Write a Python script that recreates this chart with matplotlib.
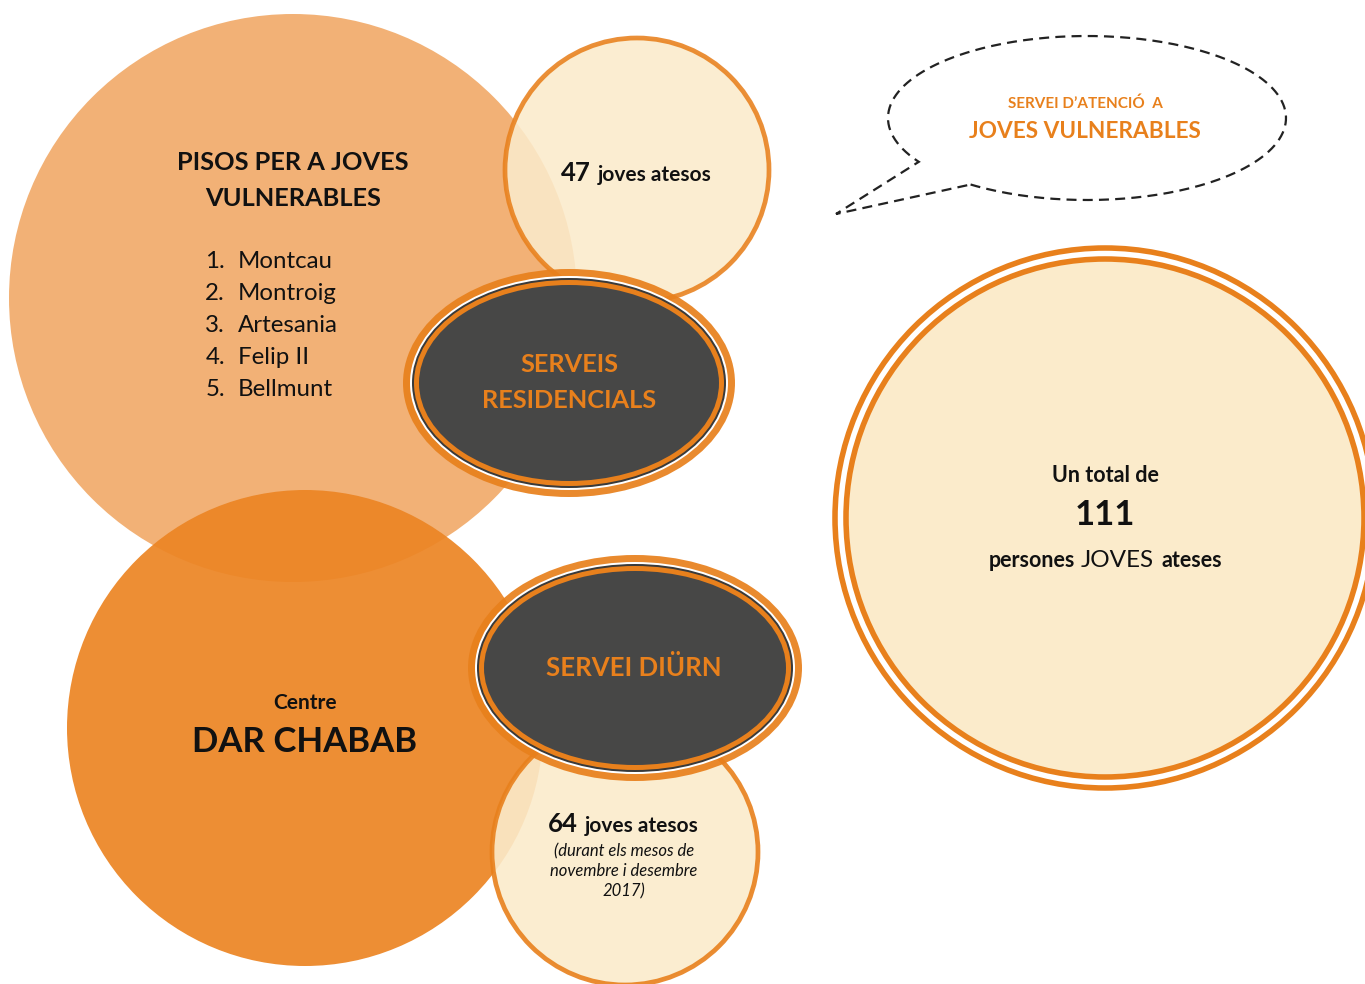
import numpy as np
import matplotlib.pyplot as plt
from matplotlib.patches import Circle, Ellipse, PathPatch
from matplotlib.path import Path

plt.rcParams['font.family'] = ['Lato', 'DejaVu Sans']

# Texts and figures of the infographic
pisos_title = ['PISOS PER A JOVES', 'VULNERABLES']
pisos_list = ['Montcau', 'Montroig', 'Artesania', 'Felip II', 'Bellmunt']
residencial_label = ['SERVEIS', 'RESIDENCIALS']
diurn_label = 'SERVEI DIÜRN'
centre_label = ['Centre', 'DAR CHABAB']
joves_residencial = 47
joves_diurn = 64
diurn_note = ['(durant els mesos de', 'novembre i desembre', '2017)']
total_joves = 111
bubble_label = ['SERVEI D\u2019ATENCIÓ  A', 'JOVES VULNERABLES']

ORANGE = '#E8801C'
LIGHT_ORANGE = '#F0A45E'
DEEP_ORANGE = '#EC8524'
CREAM = '#FBEBCB'
DARK = '#444648'
TXT = '#111111'

fig = plt.figure(figsize=(13.65, 9.84), dpi=100)
ax = fig.add_axes([0, 0, 1, 1])
ax.set_xlim(0, 1365)
ax.set_ylim(984, 0)
ax.axis('off')

# big circles
ax.add_patch(Circle((293, 298), 284, fc=LIGHT_ORANGE, ec='none', alpha=0.85, zorder=1))
ax.add_patch(Circle((305, 728), 238, fc=DEEP_ORANGE, ec='none', alpha=0.93, zorder=2))

# small "joves" circles
ax.add_patch(Circle((637, 170), 132, fc=CREAM, ec=ORANGE, lw=3.4, alpha=0.88, zorder=3))
ax.add_patch(Circle((625, 852), 133, fc=CREAM, ec=ORANGE, lw=3.4, alpha=0.9, zorder=3))


def service_ellipse(cx, cy, w, h, z):
    ax.add_patch(Ellipse((cx, cy), w, h, fc=ORANGE, ec='none', alpha=0.92, zorder=z))
    ax.add_patch(Ellipse((cx, cy), w - 14, h - 14, fc='white', ec='none', zorder=z))
    ax.add_patch(Ellipse((cx, cy), w - 18, h - 18, fc='#3a3a3a', ec='none', zorder=z))
    ax.add_patch(Ellipse((cx, cy), w - 22, h - 22, fc=ORANGE, ec='none', zorder=z))
    ax.add_patch(Ellipse((cx, cy), w - 32, h - 32, fc=DARK, ec='none', alpha=0.98, zorder=z))


service_ellipse(569, 383, 332, 228, 4)
service_ellipse(635, 668, 334, 226, 4)

# total circle (double ring)
ax.add_patch(Circle((1105, 518), 270, fc='white', ec=ORANGE, lw=4, zorder=3))
ax.add_patch(Circle((1105, 518), 259, fc=CREAM, ec=ORANGE, lw=4, zorder=3))

# speech bubble
cx, cy, a, b = 1087, 118, 199, 82
t = np.radians(np.linspace(125.8, 147.7 - 360, 300))
verts = list(zip(cx + a * np.cos(t), cy + b * np.sin(t)))
verts += [(836, 214), verts[0]]
codes = [Path.MOVETO] + [Path.LINETO] * (len(verts) - 1)
ax.add_patch(PathPatch(Path(verts, codes), fc='none', ec='#222222', lw=1.6,
                       ls=(0, (4.5, 2.8)), zorder=5))

# texts
for i, line in enumerate(pisos_title):
    ax.text(293, 163 + i * 36, line, ha='center', va='center', fontsize=18.3,
            fontweight='bold', color=TXT, zorder=6)
for i, name in enumerate(pisos_list):
    y = 262 + i * 31.8
    ax.text(225, y, f'{i + 1}.', ha='right', va='center', fontsize=17.3, color=TXT, zorder=6)
    ax.text(238, y, name, ha='left', va='center', fontsize=17.3, color=TXT, zorder=6)

for i, line in enumerate(residencial_label):
    ax.text(569, 365 + i * 35, line, ha='center', va='center', fontsize=18.3,
            fontweight='bold', color=ORANGE, zorder=6)
ax.text(634, 668, diurn_label, ha='center', va='center', fontsize=18.5,
        fontweight='bold', color=ORANGE, zorder=6)

ax.text(305, 703, centre_label[0], ha='center', va='center', fontsize=15,
        fontweight='bold', color=TXT, zorder=6)
ax.text(305, 742, centre_label[1], ha='center', va='center', fontsize=25,
        fontweight='bold', color=TXT, zorder=6)

ax.text(591, 181, str(joves_residencial), ha='right', va='baseline', fontsize=18.5,
        fontweight='bold', color=TXT, zorder=6)
ax.text(598, 181, 'joves atesos', ha='left', va='baseline', fontsize=15,
        fontweight='bold', color=TXT, zorder=6)

ax.text(578, 832, str(joves_diurn), ha='right', va='baseline', fontsize=18.5,
        fontweight='bold', color=TXT, zorder=6)
ax.text(585, 832, 'joves atesos', ha='left', va='baseline', fontsize=15,
        fontweight='bold', color=TXT, zorder=6)
for i, line in enumerate(diurn_note):
    ax.text(624, 851 + i * 20, line, ha='center', va='center', fontsize=12,
            style='italic', color=TXT, zorder=6)

ax.text(1085, 104, bubble_label[0], ha='center', va='center', fontsize=11,
        fontweight='bold', color=ORANGE, zorder=6)
ax.text(1085, 131, bubble_label[1], ha='center', va='center', fontsize=16.3,
        fontweight='bold', color=ORANGE, zorder=6)

ax.text(1105, 476, 'Un total de', ha='center', va='center', fontsize=15.5,
        fontweight='bold', color=TXT, zorder=6)
ax.text(1105, 515, str(total_joves), ha='center', va='center', fontsize=25,
        fontweight='bold', color=TXT, zorder=6)
ax.text(1075, 567, 'persones', ha='right', va='baseline', fontsize=15.5,
        fontweight='bold', color=TXT, zorder=6)
ax.text(1117, 567, 'JOVES', ha='center', va='baseline', fontsize=17.5, color=TXT, zorder=6)
ax.text(1162, 567, 'ateses', ha='left', va='baseline', fontsize=15.5,
        fontweight='bold', color=TXT, zorder=6)

fig.savefig('out.png', dpi=100, facecolor='white')
